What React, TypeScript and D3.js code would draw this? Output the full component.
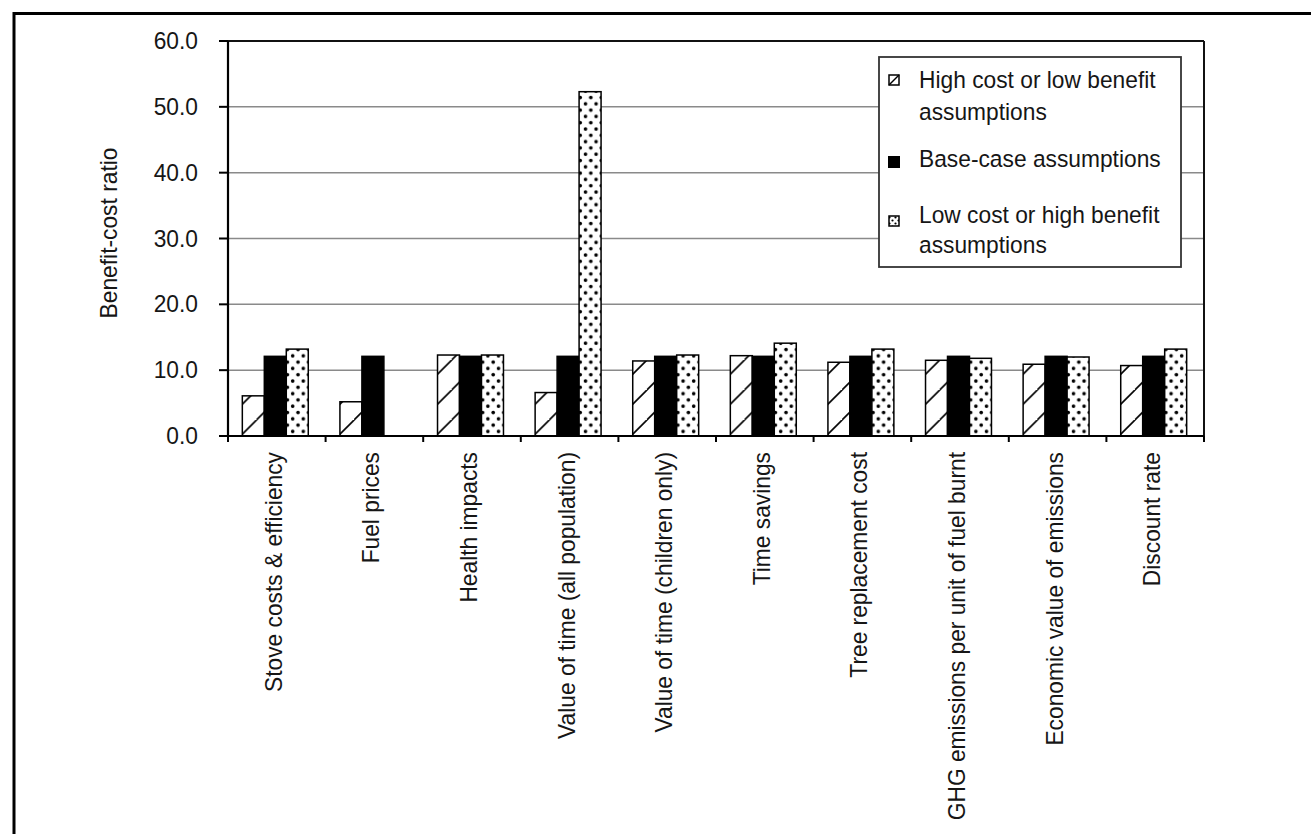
import React from "react";
import * as d3 from "d3";

// categories along the x axis
const CATEGORIES = [
	"Stove costs & efficiency",
	"Fuel prices",
	"Health impacts",
	"Value of time (all population)",
	"Value of time (children only)",
	"Time savings",
	"Tree replacement cost",
	"GHG emissions per unit of fuel burnt",
	"Economic value of emissions",
	"Discount rate"
];

// benefit-cost ratios
const HIGH_COST = [6.1, 5.2, 12.3, 6.6, 11.4, 12.2, 11.2, 11.5, 10.9, 10.7];
const BASE_CASE = [12.1, 12.1, 12.1, 12.1, 12.1, 12.1, 12.1, 12.1, 12.1, 12.1];
const LOW_COST = [13.2, null, 12.3, 52.3, 12.3, 14.1, 13.2, 11.8, 12.0, 13.2];

const SERIES_KEYS = ["high", "base", "low"];
const LEGEND_LINES = [
	["High cost or low benefit", "assumptions"],
	["Base-case assumptions"],
	["Low cost or high benefit", "assumptions"]
];

const Y_TICKS = [0, 10, 20, 30, 40, 50, 60];
const Y_TITLE = "Benefit-cost ratio";

const WIDTH = 1311, HEIGHT = 834;
const PLOT = { left: 228, top: 41, right: 1204, bottom: 436 };
const FONT = "'Liberation Sans', Arial, sans-serif";
const FONT_SIZE = 24.5;
const SQUEEZE = 0.93; // the original type is a condensed face

const FILLS = { high: "url(#hatch)", base: "#000", low: "url(#dots)" };

// text drawn a little narrower than the stock face
function T({ x, y, rotate = false, anchor = "start", dy = null, children }) {
	return (
		<text transform={`translate(${x},${y})${rotate ? " rotate(-90)" : ""} scale(${SQUEEZE},1)`}
			dy={dy} textAnchor={anchor}
			style={{ fontFamily: FONT, fontSize: FONT_SIZE, fill: "#161616" }}>{children}</text>
	);
}

export default function App() {
	const x = d3.scaleBand().domain(d3.range(CATEGORIES.length)).range([PLOT.left, PLOT.right]).padding(0);
	const inner = d3.scaleBand().domain(SERIES_KEYS).range([0, x.bandwidth()]).paddingInner(0).paddingOuter(0.72);
	const y = d3.scaleLinear().domain([0, 60]).range([PLOT.bottom, PLOT.top]);
	const fmt = d3.format(".1f");

	const rows = CATEGORIES.map((c, i) => ({ i, high: HIGH_COST[i], base: BASE_CASE[i], low: LOW_COST[i] }));
	const bw = inner.bandwidth();

	return (
		<svg width={WIDTH} height={HEIGHT} style={{ position: "absolute", left: 0, top: 0, display: "block", background: "#fff" }}>
			<defs>
				<pattern id="hatch" patternUnits="userSpaceOnUse" width={30} height={30}>
					<rect width={30} height={30} fill="#fff" />
					<path d="M-3,33 L33,-3 M-33,33 L3,-3 M27,63 L63,27" stroke="#000" strokeWidth={1.6} />
				</pattern>
				<pattern id="dots" patternUnits="userSpaceOnUse" width={10.6} height={12.6}>
					<rect width={10.6} height={12.6} fill="#fff" />
					<circle cx={2.6} cy={3} r={1.8} fill="#000" />
					<circle cx={7.9} cy={9.3} r={1.8} fill="#000" />
				</pattern>
				<pattern id="dotsSmall" patternUnits="userSpaceOnUse" width={6} height={6}>
					<rect width={6} height={6} fill="#fff" />
					<circle cx={1.5} cy={1.5} r={1.1} fill="#000" />
					<circle cx={4.5} cy={4.5} r={1.1} fill="#000" />
				</pattern>
			</defs>

			{/* outer frame, cropped at right and bottom */}
			<rect x={14} y={13.5} width={1400} height={900} fill="none" stroke="#000" strokeWidth={3} />

			{/* grid */}
			{Y_TICKS.filter(t => t > 0 && t < 60).map(t => (
				<line key={"g" + t} x1={PLOT.left} x2={PLOT.right} y1={y(t)} y2={y(t)} stroke="#8a8a8a" strokeWidth={1.5} />
			))}
			<line x1={PLOT.left} x2={PLOT.right} y1={y(60)} y2={y(60)} stroke="#111" strokeWidth={2} />
			<line x1={PLOT.right} x2={PLOT.right} y1={y(60)} y2={y(0)} stroke="#111" strokeWidth={2} />

			{/* bars */}
			{rows.map(r => (
				<g key={"b" + r.i} transform={`translate(${x(r.i) - 1.5},0)`}>
					{SERIES_KEYS.map(k => r[k] == null ? null : (
						<rect key={k} x={inner(k)} y={y(r[k])} width={bw} height={y(0) - y(r[k])}
							fill={FILLS[k]} stroke="#000" strokeWidth={1.5} />
					))}
				</g>
			))}

			{/* y axis */}
			<line x1={PLOT.left} x2={PLOT.left} y1={y(60)} y2={y(0) + 1} stroke="#000" strokeWidth={2.2} />
			{Y_TICKS.map(t => (
				<g key={"y" + t}>
					<line x1={PLOT.left - 9} x2={PLOT.left} y1={y(t)} y2={y(t)} stroke="#000" strokeWidth={2} />
					<T x={198} y={y(t) + 8} anchor="end">{fmt(t)}</T>
				</g>
			))}
			<T x={117} y={233} rotate anchor="middle">{Y_TITLE}</T>

			{/* x axis */}
			<line x1={PLOT.left} x2={PLOT.right} y1={y(0)} y2={y(0)} stroke="#000" strokeWidth={2.2} />
			{d3.range(CATEGORIES.length + 1).map(i => {
				const xx = i < CATEGORIES.length ? x(i) : PLOT.right;
				return <line key={"t" + i} x1={xx} x2={xx} y1={y(0)} y2={y(0) + 6} stroke="#000" strokeWidth={2} />;
			})}
			{CATEGORIES.map((c, i) => (
				<T key={"c" + i} x={x(i) + x.bandwidth() / 2 + 5} y={y(0) + 16} rotate anchor="end">{c}</T>
			))}

			{/* legend */}
			<g>
				<rect x={879} y={57} width={302} height={210} fill="#fff" stroke="#333" strokeWidth={1.8} />
				{[
					{ k: "high", sy: 75, lines: [88, 120] },
					{ k: "base", sy: 156, lines: [167] },
					{ k: "low", sy: 216, lines: [223, 253] }
				].map((it, j) => (
					<g key={"l" + it.k}>
						{it.k === "high" && (
							<g>
								<rect x={889} y={it.sy} width={10} height={10} fill="#fff" stroke="#000" strokeWidth={1.5} />
								<line x1={889} y1={it.sy + 10} x2={899} y2={it.sy} stroke="#000" strokeWidth={1.5} />
							</g>
						)}
						{it.k === "base" && <rect x={888} y={it.sy} width={12} height={12} fill="#000" />}
						{it.k === "low" && <rect x={889} y={it.sy} width={10} height={10} fill="url(#dotsSmall)" stroke="#000" strokeWidth={1.5} />}
						{LEGEND_LINES[j].map((ln, li) => (
							<T key={li} x={919} y={it.lines[li]}>{ln}</T>
						))}
					</g>
				))}
			</g>
		</svg>
	);
}
